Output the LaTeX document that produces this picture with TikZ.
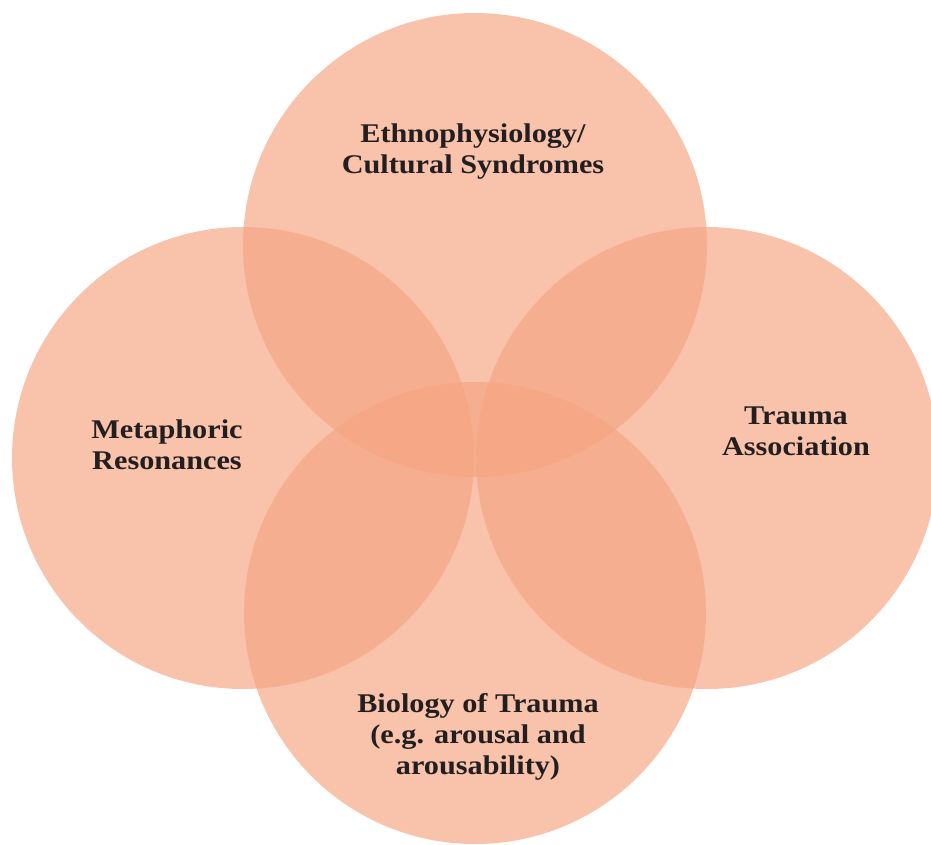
\documentclass[tikz,border=0pt]{standalone}
\usepackage{fontspec}
\newfontfamily\labelfont[FakeStretch=1.12]{Liberation Serif}
\definecolor{circfill}{RGB}{245,164,130}
\definecolor{txt}{RGB}{35,31,32}
\begin{document}
\begin{tikzpicture}[x=1pt,y=-1pt,
  venn/.style={fill=circfill,fill opacity=0.67,draw=none},
  lbl/.style={font=\labelfont\bfseries\fontsize{27}{31}\selectfont,text=txt,align=center,inner sep=0pt}]
\useasboundingbox (0,0) rectangle (931,844);
\fill[venn] (475,245) circle (232);
\fill[venn] (243,458) circle (231);
\fill[venn] (707,458) circle (231);
\fill[venn] (475,613) circle (231);
\node[lbl] (top) at (473,152) {Ethnophysiology/\\Cultural Syndromes};
\node[lbl] (left) at (167,445) {Metaphoric\\Resonances};
\node[lbl] (right) at (796,431) {Trauma\\Association};
\node[lbl] (bottom) at (478,737) {Biology of Trauma\\(e.g. arousal and\\arousability)};
\end{tikzpicture}
\end{document}
